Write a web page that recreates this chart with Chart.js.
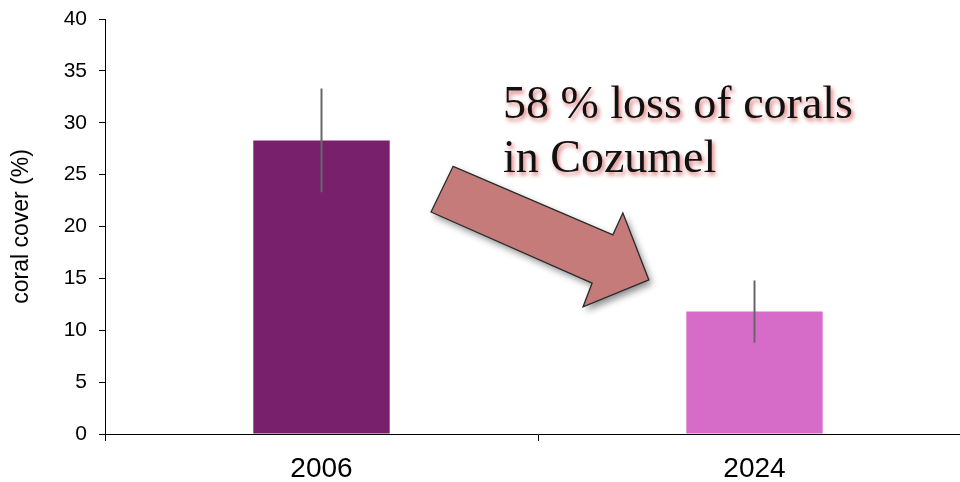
<!DOCTYPE html>
<html>
<head>
<meta charset="utf-8">
<script src="https://cdn.jsdelivr.net/npm/chart.js@4"></script>
<style>
  html, body { margin: 0; padding: 0; background: #fff; overflow: hidden; }
  #wrap { width: 975px; height: 482px; position: relative; }
</style>
</head>
<body>
<div id="wrap"><canvas id="coralChart"></canvas></div>
<script>
const years = ["2006", "2024"];
const coralCover = [28.3, 11.8];
const coverError = [5.0, 3.0];
const barColors = ["#78206C", "#D76CC8"];
const yMin = 0, yMax = 40, yStep = 5;

const noteLines = ["58 % loss of corals", "in Cozumel"];
// note + arrow placed in data units (category index, % cover)
const notePos = [{ x: 0.419, y: 30.5 }, { x: 0.419, y: 25.3 }];
const arrowPts = [
  [0.304, 25.8], [0.673, 19.2], [0.696, 21.3], [0.756, 14.85],
  [0.604, 12.25], [0.625, 14.55], [0.253, 21.4]
];

// error bars, just a grey vertical line per bar
const errorBars = {
  id: "errorBars",
  afterDatasetsDraw(chart) {
    const ctx = chart.ctx;
    const y = chart.scales.y;
    const meta = chart.getDatasetMeta(0);
    ctx.save();
    ctx.strokeStyle = "#666";
    ctx.lineWidth = 2;
    meta.data.forEach((bar, i) => {
      const v = coralCover[i], e = coverError[i];
      ctx.beginPath();
      ctx.moveTo(bar.x, y.getPixelForValue(v + e));
      ctx.lineTo(bar.x, y.getPixelForValue(v - e));
      ctx.stroke();
    });
    ctx.restore();
  }
};

const lossNote = {
  id: "lossNote",
  afterDraw(chart) {
    const ctx = chart.ctx;
    const xs = chart.scales.x, ys = chart.scales.y;
    ctx.save();
    // arrow
    ctx.beginPath();
    arrowPts.forEach(([a, b], i) => {
      const px = xs.getPixelForValue(a), py = ys.getPixelForValue(b);
      if (i === 0) ctx.moveTo(px, py); else ctx.lineTo(px, py);
    });
    ctx.closePath();
    ctx.shadowColor = "rgba(0,0,0,0.45)";
    ctx.shadowBlur = 7;
    ctx.shadowOffsetX = 3;
    ctx.shadowOffsetY = 4;
    ctx.fillStyle = "#C47B7A";
    ctx.fill();
    ctx.shadowColor = "transparent";
    ctx.strokeStyle = "#2b2b2b";
    ctx.lineWidth = 1.3;
    ctx.stroke();

    // text
    ctx.font = "46px 'Liberation Serif', 'DejaVu Serif', serif";
    ctx.textAlign = "left";
    ctx.textBaseline = "alphabetic";
    ctx.fillStyle = "#111";
    ctx.shadowColor = "rgba(205,40,40,0.65)";
    ctx.shadowBlur = 4;
    ctx.shadowOffsetX = 2;
    ctx.shadowOffsetY = 3;
    noteLines.forEach((t, i) => {
      ctx.fillText(t, xs.getPixelForValue(notePos[i].x), ys.getPixelForValue(notePos[i].y));
    });
    ctx.restore();
  }
};

new Chart(document.getElementById("coralChart").getContext("2d"), {
  type: "bar",
  data: {
    labels: years,
    datasets: [{
      data: coralCover,
      backgroundColor: barColors,
      categoryPercentage: 1,
      barPercentage: 0.315
    }]
  },
  options: {
    responsive: true,
    maintainAspectRatio: false,
    animation: false,
    layout: { padding: { top: 0, right: 4, left: 0, bottom: 0 } },
    plugins: {
      legend: { display: false },
      tooltip: { enabled: false }
    },
    scales: {
      x: {
        afterFit: s => { s.height = 48; },
        grid: { display: true, drawOnChartArea: false, drawTicks: true, tickLength: 7, color: "#000", offset: true },
        border: { color: "#000", width: 1 },
        ticks: {
          color: "#000",
          padding: 11,
          font: { family: "'Liberation Sans', Arial, sans-serif", size: 28 }
        }
      },
      y: {
        min: yMin,
        max: yMax,
        afterFit: s => { s.width = 105; s.paddingTop = 19; },
        grid: { display: true, drawOnChartArea: false, drawTicks: true, tickLength: 6, color: "#000" },
        border: { color: "#000", width: 1 },
        ticks: {
          stepSize: yStep,
          color: "#000",
          padding: 12,
          font: { family: "'Liberation Sans', Arial, sans-serif", size: 21 }
        },
        title: {
          display: true,
          text: "coral cover (%)",
          color: "#000",
          padding: { top: 8, bottom: 0 },
          font: { family: "'Liberation Sans', Arial, sans-serif", size: 23 }
        }
      }
    }
  },
  plugins: [errorBars, lossNote]
});
</script>
</body>
</html>
